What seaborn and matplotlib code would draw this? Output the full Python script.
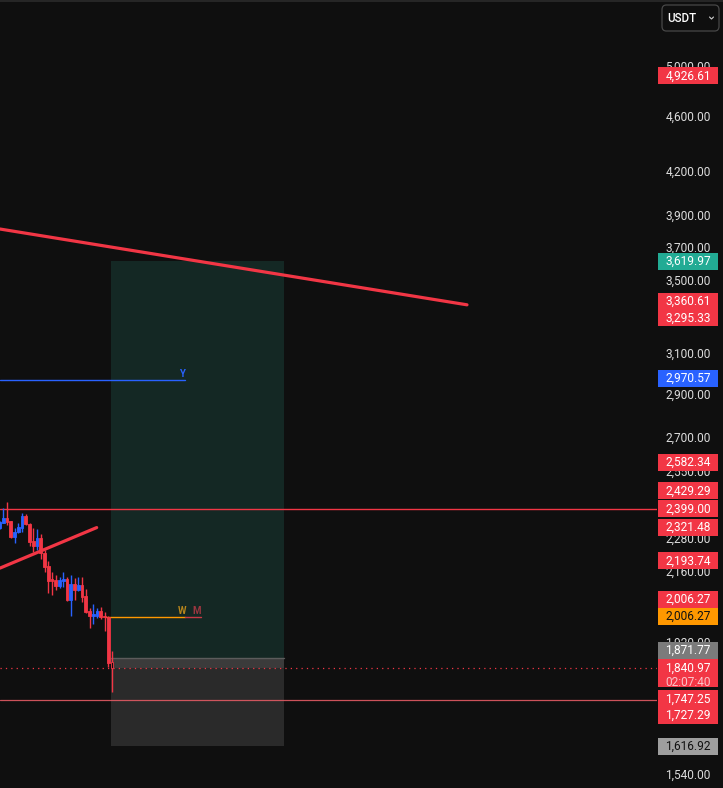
import numpy as np
import pandas as pd
import seaborn as sns
import matplotlib
matplotlib.use("Agg")
import matplotlib.pyplot as plt
from matplotlib.patches import Rectangle, FancyBboxPatch
from matplotlib.lines import Line2D

# ---------------- data ----------------
opens  = [2325, 2344, 2364, 2352, 2290, 2310, 2325, 2372, 2340, 2275, 2256, 2287, 2230, 2182, 2136, 2132,
          2111, 2129, 2136, 2063, 2118, 2097, 2114, 2077, 2025, 2009, 2009, 2025, 2009, 2006, 1861]
closes = [2348, 2364, 2348, 2290, 2310, 2329, 2372, 2340, 2271, 2256, 2287, 2230, 2179, 2129, 2129, 2111,
          2132, 2136, 2063, 2118, 2097, 2114, 2073, 2022, 2009, 2015, 2025, 2005, 2005, 1858, 1841]
highs  = [2352, 2403, 2427, 2352, 2325, 2344, 2384, 2380, 2344, 2325, 2321, 2302, 2242, 2201, 2161, 2150,
          2143, 2161, 2143, 2150, 2139, 2143, 2143, 2101, 2036, 2049, 2036, 2039, 2022, 2009, 1896]
lows   = [2321, 2344, 2336, 2287, 2268, 2306, 2310, 2336, 2256, 2234, 2242, 2208, 2161, 2087, 2080, 2097,
          2104, 2108, 2059, 2009, 2063, 2094, 2056, 2019, 1969, 1982, 2002, 1999, 1959, 1846, 1771]

price_ticks = [5000, 4600, 4200, 3900, 3700, 3500, 3100, 2900, 2700, 2550, 2280, 2160, 1920, 1540]

trend_a_x = [0.12, 124.65]
trend_a_y = [3820, 3368]
trend_b_x = [0.12, 25.9]
trend_b_y = [2174.6, 2326]

yearly_level = 2970.57
yearly_x = [0.12, 49.45]
weekly_level = 2006.27
weekly_x = [28.5, 49.45]
monthly_x = [49.45, 53.72]
resist_level = 2399.00
low_level = 1747.25
last_price = 1840.97
entry_price = 1871.77
target_price = 3619.97
stop_price = 1616.92
position_x = [29.72, 75.85]

# (text, price, background, text colour, shift in px)
price_labels = [
    ("4,926.61", 4926.61, "#f23645", "white", 0),
    ("3,619.97", 3619.97, "#22ab94", "white", 0),
    ("3,360.61", 3360.61, "#f23645", "white", -5),
    ("3,295.33", 3295.33, "#f23645", "white", 0),
    ("2,970.57", 2970.57, "#2962ff", "white", -2),
    ("2,582.34", 2582.34, "#f23645", "white", -2),
    ("2,429.29", 2429.29, "#f23645", "white", -10.5),
    ("2,399.00", 2399.00, "#f23645", "white", 0),
    ("2,321.48", 2321.48, "#f23645", "white", -1),
    ("2,193.74", 2193.74, "#f23645", "white", -2),
    ("2,006.27", 2006.27, "#f23645", "white", -17),
    ("2,006.27", 2006.27, "#ff9800", "#111111", 0),
    ("1,871.77", 1871.77, "#7b7b7b", "white", -8),
    ("1,747.25", 1747.25, "#f23645", "white", -1),
    ("1,727.29", 1727.29, "#f23645", "white", 9),
    ("1,616.92", 1616.92, "#9e9e9e", "#111111", 0),
]
countdown = "02:07:40"

# ---------------- style ----------------
BG = "#0f0f0f"
RED = "#f23645"
BLUE = "#2962ff"
sns.set_theme(style="dark", rc={"axes.facecolor": BG, "figure.facecolor": BG})
plt.rcParams['font.family'] = ['Roboto', 'DejaVu Sans']

W, H = 723, 788
fig = plt.figure(figsize=(W / 100, H / 100), dpi=100)
ax = fig.add_axes([0, 0, 657 / W, 1])
pax = fig.add_axes([657 / W, 0, 66 / W, 1], sharey=ax)
for a in (ax, pax):
    a.set_facecolor(BG)
    for s in a.spines.values():
        s.set_visible(False)
    a.grid(False)

ax.set_yscale("log")
ylo, yhi = 1509, 5589
ax.set_ylim(ylo, yhi)
ax.set_xlim(0.12, 175.32)
pax.set_xlim(0, 66)
ax.tick_params(left=False, bottom=False, labelleft=False, labelbottom=False)
pax.tick_params(left=False, bottom=False, labelleft=False, labelbottom=False)
ax.yaxis.set_minor_locator(matplotlib.ticker.NullLocator())
ax.yaxis.set_major_locator(matplotlib.ticker.NullLocator())

K = H / np.log(yhi / ylo)   # pixels per ln unit


def shifted(p, px):
    return p * np.exp(-px / K)


# position boxes
ax.add_patch(Rectangle((position_x[0], entry_price), position_x[1] - position_x[0],
                       target_price - entry_price, color="#142824", lw=0, zorder=1))
ax.add_patch(Rectangle((position_x[0], stop_price), position_x[1] - position_x[0],
                       entry_price - stop_price, color="#2a2a2a", lw=0, zorder=1))
ax.add_patch(Rectangle((position_x[0], last_price), position_x[1] - position_x[0],
                       entry_price - last_price, color="#3b3b3b", lw=0, zorder=1))
ax.plot(position_x, [entry_price, entry_price], color="#5c5c5c", lw=1, zorder=1.5)

# horizontal levels
ax.axhline(resist_level, color=RED, lw=1.0, zorder=2, snap=True)
ax.axhline(low_level, color="#e25a63", lw=0.9, alpha=0.9, zorder=2, snap=True)
ax.axhline(last_price, color=RED, lw=0.9, ls=(0, (1, 3.3)), zorder=2)
ax.plot(yearly_x, [yearly_level] * 2, color=BLUE, lw=1, zorder=2)
ax.plot(weekly_x, [weekly_level] * 2, color="#ff9800", lw=1, zorder=2)
ax.plot(monthly_x, [weekly_level] * 2, color="#c83a46", lw=1, zorder=2)
ax.annotate("Y", (48.65, yearly_level), xytext=(0, 6), textcoords="offset pixels",
            ha="center", va="center", color=BLUE, fontsize=7, fontweight="bold")
ax.annotate("W", (48.6, weekly_level), xytext=(0, 6), textcoords="offset pixels",
            ha="center", va="center", color="#b8861c", fontsize=7, fontweight="bold")
ax.annotate("M", (52.6, weekly_level), xytext=(0, 6), textcoords="offset pixels",
            ha="center", va="center", color="#9c3640", fontsize=7, fontweight="bold")

# trend lines via seaborn
sns.lineplot(x=trend_a_x, y=trend_a_y, ax=ax, color=RED, lw=2.3, zorder=4, legend=False)
sns.lineplot(x=trend_b_x, y=trend_b_y, ax=ax, color=RED, lw=2.3, zorder=4, legend=False)

# candles
df = pd.DataFrame({"open": opens, "high": highs, "low": lows, "close": closes})
df["i"] = np.arange(len(df))
df["up"] = df["close"] >= df["open"]
cols = np.where(df["up"], BLUE, RED)
ax.vlines(df["i"], df["low"], df["high"], colors=cols, lw=1, zorder=3)
bottoms = np.minimum(df["open"], df["close"])
heights = np.maximum(np.abs(df["close"] - df["open"]), 1.5)
last = len(df) - 1
face = list(cols)
face[last] = BG
ax.bar(df["i"], heights, bottom=bottoms, width=0.72, color=face, edgecolor=cols,
       linewidth=0.6, zorder=3.5)

# price scale ticks
for t in price_ticks:
    pax.text(31, t, f"{t:,.2f}", ha="center", va="center", color="#dcdcdc", fontsize=8.6, zorder=2)


def label_box(text, p, bg, fg, shift, top=-8.5, bottom=8.5):
    pc = shifted(p, shift)
    y0 = shifted(pc, bottom)
    y1 = shifted(pc, top)
    pax.add_patch(Rectangle((1, y0), 60, y1 - y0, color=bg, lw=0, zorder=5))
    pax.text(31, pc, text, ha="center", va="center", color=fg, fontsize=8.6, zorder=6)
    return pc


for text, p, bg, fg, shift in price_labels:
    label_box(text, p, bg, fg, shift)

# current price with countdown (two-line box)
pc = label_box(f"{last_price:,.2f}", last_price, RED, "white", 0, top=-9, bottom=19)
pax.text(31, shifted(pc, 14), countdown, ha="center", va="center", color="#fbc3c8",
         fontsize=8.6, zorder=6)

# top border
fig.add_artist(Line2D([0, 1], [1 - 0.5 / H, 1 - 0.5 / H], transform=fig.transFigure,
                      color="#2b2b2b", lw=1.2))

# currency button
fig.add_artist(FancyBboxPatch((662 / W, 1 - 31 / H), 57 / W, 26 / H,
                              boxstyle="round,pad=0,rounding_size=0.006",
                              transform=fig.transFigure, facecolor=BG,
                              edgecolor="#474747", lw=0.9))
fig.text(667 / W, 1 - 18.5 / H, "USDT", ha="left", va="center", color="white",
         fontsize=8.4, fontweight="medium")
fig.add_artist(Line2D([709.5 / W, 711.5 / W, 713.5 / W], [1 - 17 / H, 1 - 19 / H, 1 - 17 / H],
                      transform=fig.transFigure, color="#cfcfcf", lw=0.8))

fig.savefig("out.png", dpi=100, facecolor=BG)
